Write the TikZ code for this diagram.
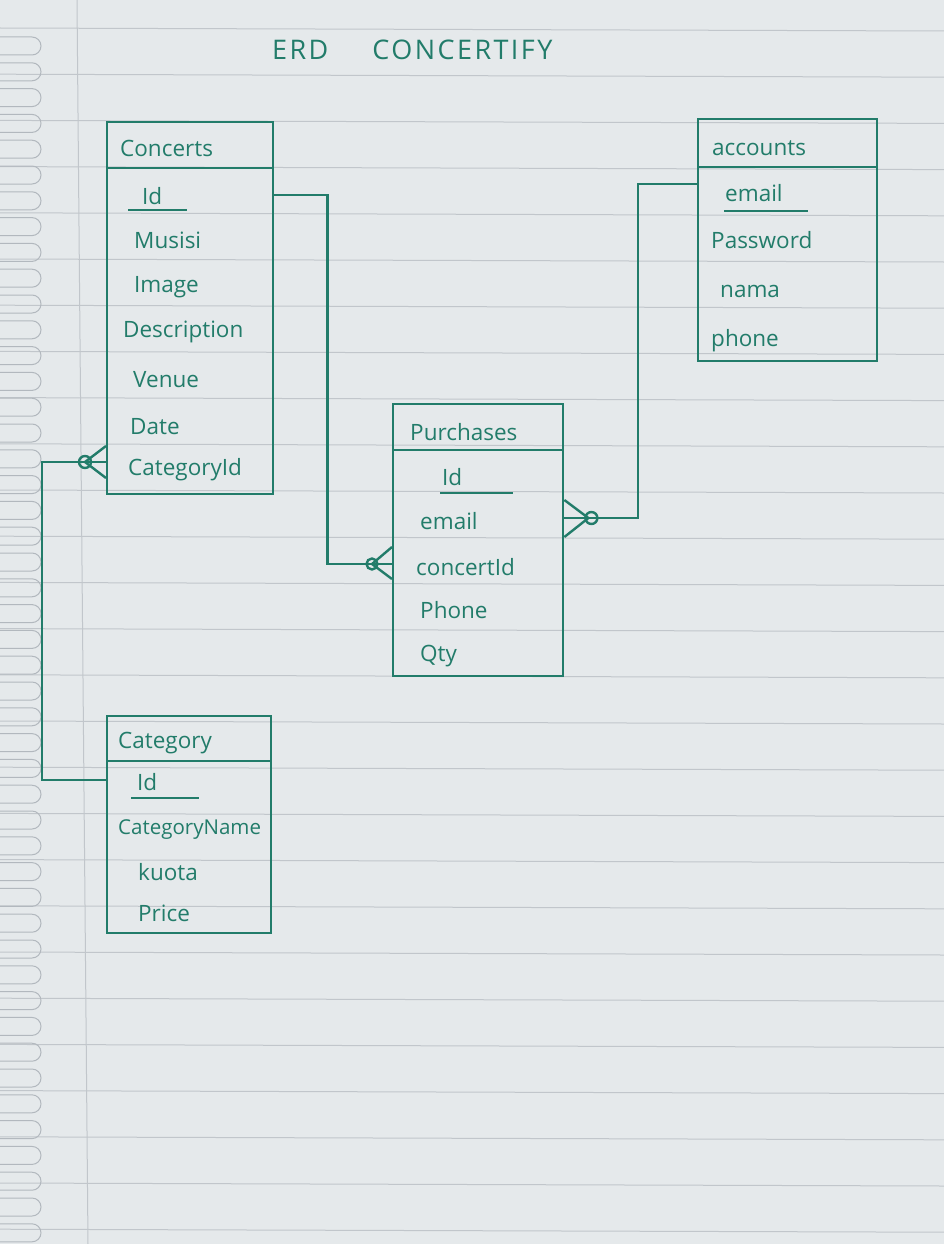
\documentclass[tikz,border=0pt]{standalone}
\usepackage{fontspec}
\setmainfont{Open Sans}
\usetikzlibrary{calc}
\definecolor{ink}{RGB}{34,124,106}
\definecolor{paper}{RGB}{229,233,235}
\definecolor{ruleline}{RGB}{193,198,203}
\definecolor{ringline}{RGB}{178,184,190}
\begin{document}
\begin{tikzpicture}[x=1pt,y=-1pt,
  entity/.style={draw=ink, line width=2.4pt, rectangle, inner sep=0pt, anchor=north west},
  attr/.style={anchor=west, inner sep=0pt, text=ink, font=\fontsize{22.5}{26}\selectfont},
  conn/.style={draw=ink, line width=2.4pt},
  uline/.style={draw=ink, line width=2pt},
  sep/.style={draw=ink, line width=2.4pt}]
% paper
\fill[paper] (0,0) rectangle (944,1244);
\useasboundingbox (0,0) rectangle (944,1244);
\foreach \k in {0,...,26}{
  \draw[ruleline, line width=1pt] (0,{28+46.2*\k}) -- (944,{31+46.2*\k});
}
\draw[ruleline, line width=1pt] (77,0) -- (88,1244);
\foreach \k in {0,...,46}{
  \draw[ringline, line width=1pt] (0,{46+25.8*\k-9}) -- (32,{46+25.8*\k-9}) arc[start angle=-90,end angle=90,radius=9] -- (0,{46+25.8*\k+9});
}
% title
\node[anchor=west, inner sep=0pt, text=ink, font=\fontsize{27}{30}\selectfont\addfontfeatures{LetterSpace=9}] (title) at (272,50) {ERD\hspace{44pt}CONCERTIFY};

% ---------- Concerts ----------
\node[entity, minimum width=166pt, minimum height=372pt] (concerts) at (106,121) {};
\draw[sep] ($(concerts.north west)+(0,47)$) -- ($(concerts.north east)+(0,47)$);
\node[attr] (cname) at (120,148) {Concerts};
\node[attr] (cid) at (142,196) {Id};
\draw[uline] ($(cid.west)+(-14,14)$) -- ++(59,0);
\node[attr] (cmus) at (134,240) {Musisi};
\node[attr] (cimg) at (134,287) {Image};
\node[attr] (cdesc) at (123,332) {Description};
\node[attr] (cven) at (133,380) {Venue};
\node[attr] (cdate) at (130,427) {Date};
\node[attr] (ccat) at (128,470) {CategoryId};

% ---------- accounts ----------
\node[entity, minimum width=179pt, minimum height=242pt] (accounts) at (697,118) {};
\draw[sep] ($(accounts.north west)+(0,49)$) -- ($(accounts.north east)+(0,49)$);
\node[attr] (aname) at (712,148) {accounts};
\node[attr] (aemail) at (725,193) {email};
\draw[uline] ($(aemail.west)+(-1,18)$) -- ++(84,0);
\node[attr] (apass) at (711,240) {Password};
\node[attr] (anama) at (720,291) {nama};
\node[attr] (aphone) at (711,341) {phone};

% ---------- Purchases ----------
\node[entity, minimum width=170pt, minimum height=272pt] (purchases) at (392,403) {};
\draw[sep] ($(purchases.north west)+(0,47)$) -- ($(purchases.north east)+(0,47)$);
\node[attr] (pname) at (410,432) {Purchases};
\node[attr] (pid) at (442,477) {Id};
\draw[uline] ($(pid.west)+(-2,16)$) -- ++(73,0);
\node[attr] (pemail) at (420,521) {email};
\node[attr] (pcon) at (416,567) {concertId};
\node[attr] (pphone) at (420,610) {Phone};
\node[attr] (pqty) at (420,656) {Qty};

% ---------- Category ----------
\node[entity, minimum width=164pt, minimum height=217pt] (category) at (106,715) {};
\draw[sep] ($(category.north west)+(0,46)$) -- ($(category.north east)+(0,46)$);
\node[attr] (gname) at (118,743) {Category};
\node[attr] (gid) at (137,782) {Id};
\draw[uline] ($(gid.west)+(-6,16)$) -- ++(68,0);
\node[attr, font=\fontsize{20.5}{23}\selectfont] (gcname) at (118,830) {CategoryName};
\node[attr] (gkuota) at (138,872) {kuota};
\node[attr] (gprice) at (138,913) {Price};

% ---------- connectors ----------
% Concerts (one) -> Purchases (many)
\coordinate (cIdR) at ($(concerts.north east)+(0,74)$);
\coordinate (pConL) at ($(purchases.north west)+(0,161)$);
\draw[conn] (cIdR) -- ($(cIdR)+(53,0)$) |- (pConL);
\draw[conn] ($(pConL)+(-20,0)$) -- ($(pConL)+(0,-17)$);
\draw[conn] ($(pConL)+(-20,0)$) -- ($(pConL)+(0,15)$);
\draw[conn] ($(pConL)+(-20,0)$) circle[radius=5.5];

% accounts (one) -> Purchases (many)
\coordinate (aL) at ($(accounts.north west)+(0,66)$);
\coordinate (pEmR) at ($(purchases.north east)+(0,115)$);
\draw[conn] (aL) -- ($(aL)+(-59,0)$) |- (pEmR);
\draw[conn] ($(pEmR)+(24,0)$) -- ($(pEmR)+(0,-18)$);
\draw[conn] ($(pEmR)+(24,0)$) -- ($(pEmR)+(0,19)$);
\draw[conn] ($(pEmR)+(27,0)$) circle[radius=6];

% Category (one) -> Concerts (many)
\coordinate (gL) at ($(category.north west)+(0,65)$);
\coordinate (cCatL) at ($(concerts.north west)+(0,341)$);
\draw[conn] (gL) -- ($(gL)+(-64,0)$) |- (cCatL);
\draw[conn] ($(cCatL)+(-21,0)$) -- ($(cCatL)+(0,-16)$);
\draw[conn] ($(cCatL)+(-21,0)$) -- ($(cCatL)+(0,16)$);
\draw[conn] ($(cCatL)+(-21,0)$) circle[radius=6];
\end{tikzpicture}
\end{document}
